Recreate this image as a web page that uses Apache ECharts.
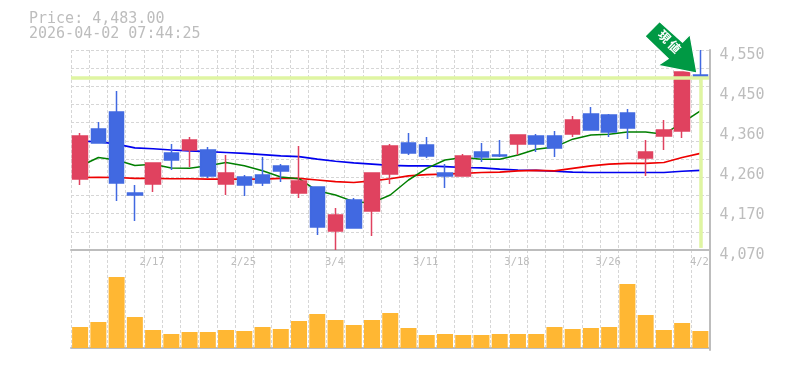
<!DOCTYPE html>
<html><head><meta charset="utf-8">
<script src="https://cdn.jsdelivr.net/npm/echarts@6/dist/echarts.min.js"></script>
<style>html,body{margin:0;padding:0;background:#fff}#c{width:785px;height:370px}</style>
</head><body><div id="c"></div>
<script>
const titleLines = ["Price: 4,483.00", "2026-04-02 07:44:25"];
const dates = ["2/10","2/12","2/13","2/16","2/17","2/18","2/19","2/20","2/24","2/25","2/26","2/27","3/2","3/3","3/4","3/5","3/6","3/9","3/10","3/11","3/12","3/13","3/16","3/17","3/18","3/19","3/23","3/24","3/25","3/26","3/27","3/30","3/31","4/1","4/2"];
const shownDates = ["2/17","2/25","3/4","3/11","3/18","3/26","4/2"];
const priceTicks = [4070,4166,4262,4358,4454,4550];
const priceTickLabels = ["4,070","4,170","4,260","4,360","4,450","4,550"];
// open, close, low, high
const ohlc = [
[4240.4,4343.6,4226,4350.8],[4360.4,4326.8,4326.8,4377.2],[4401.2,4230.8,4187.6,4451.6],[4206.8,4202,4139.6,4226],
[4228.4,4278.8,4209.2,4278.8],[4302.8,4286,4262,4324.4],[4310,4334,4269.2,4341.2],[4310,4247.6,4242.8,4317.2],
[4228.4,4254.8,4202,4298],[4245.2,4226,4199.6,4250],[4250,4230.8,4223.6,4293.2],[4271.6,4259.6,4233.2,4276.4],
[4206.8,4235.6,4194.8,4319.6],[4221.2,4125.2,4106,4221.2],[4115.6,4154,4070,4170.8],[4190,4122.8,4122.8,4194.8],
[4163.6,4254.8,4103.6,4254.8],[4252.4,4319.6,4228.4,4324.4],[4326.8,4302.8,4298,4350.8],[4322,4295.6,4290.8,4341.2],
[4254.8,4247.6,4218.8,4276.4],[4247.6,4295.6,4247.6,4300.4],[4305.2,4293.2,4281.2,4326.8],[4298,4295.6,4293.2,4334],
[4324.4,4346,4298,4346],[4343.6,4324.4,4305.2,4348.4],[4343.6,4314.8,4293.2,4355.6],[4348.4,4382,4341.2,4391.6],
[4396.4,4358,4358,4413.2],[4394,4353.2,4341.2,4396.4],[4398.8,4362.8,4336.4,4408.4],[4290.8,4305.2,4247.6,4334],
[4343.6,4358,4310,4382],[4355.6,4497.2,4338.8,4497.2],[4490,4483,4470.8,4550]];
const maGreen = [4271,4292,4286,4273,4276,4267,4266,4272,4280,4272,4260,4245,4241,4212,4202,4186,4183,4202,4238,4266,4286,4292,4288,4288,4298,4312,4317,4336,4346,4348,4353,4353,4348,4375,4404];
const maRed = [4244,4244.5,4244,4242,4242,4241,4241,4240,4240,4240,4240,4242,4242,4238,4234,4232,4236,4241,4248,4251,4252,4254,4256,4257,4260,4261,4260,4266,4272,4276,4278,4278,4280,4292,4302];
const maBlue = [4331,4330,4324,4315,4313,4310,4308,4306,4304,4302,4299,4296,4294,4288,4283,4279,4276,4273,4272,4272,4270,4268,4267,4264,4262,4261,4259,4257,4256,4256,4256,4256,4256,4259,4261];
const volume = [21,26,71,31,18,14,16,16,18,17,21,19,27,34,28,23,28,35,20,13,14,13,13,14,14,14,21,19,20,21,64,33,18,25,17];
const lastPrice = 4483;
const arrowLabel = "現\u2009値";

const GREY = '#bdbdbd', GRIDC = '#d6d6d6', LIME = '#dff5a2';
const FONT = '"DejaVu Sans Mono", monospace';
const dash = {color: GRIDC, width: 1, type: [3, 2]};
const ARROW = 'path://M14.3 0 L36.7 20 L44 12.7 L50.7 50 L12.7 42.7 L22.7 36 L0 14.4 Z';

const chart = echarts.init(document.getElementById('c'), null, {renderer: 'canvas'});
chart.setOption({
  animation: false,
  backgroundColor: '#fff',
  title: {text: titleLines.join('\n'), left: 24, top: 7,
    textStyle: {fontFamily: FONT, fontSize: 15, fontWeight: 'normal', color: GREY, lineHeight: 15}},
  grid: [
    {left: 71, top: 50, width: 638.5, height: 200},
    {left: 71, top: 250, width: 638.5, height: 100}
  ],
  xAxis: [
    {type: 'category', gridIndex: 0, data: dates, boundaryGap: true,
     axisLine: {show: true, lineStyle: {color: GREY, width: 2}}, axisTick: {show: false},
     splitLine: {show: true, interval: 0, lineStyle: dash},
     axisLabel: {interval: (i, v) => shownDates.includes(v), fontFamily: FONT, fontSize: 10.5, color: GREY, margin: 7, padding: [0, 2, 0, 0], hideOverlap: false}},
    {type: 'category', gridIndex: 1, data: dates, boundaryGap: true,
     axisLine: {show: true, lineStyle: {color: GREY, width: 2}}, axisTick: {show: false}, axisLabel: {show: false},
     splitLine: {show: true, interval: 0, lineStyle: dash}}
  ],
  yAxis: [
    {type: 'value', gridIndex: 0, position: 'right', min: 4070, max: 4550,
     axisLine: {show: true, lineStyle: {color: GREY, width: 2}}, axisTick: {show: false}, splitLine: {show: false},
     axisLabel: {customValues: priceTicks, formatter: v => priceTickLabels[priceTicks.indexOf(v)],
       fontFamily: FONT, fontSize: 15, color: GREY, margin: 10, verticalAlign: 'top', lineHeight: 10}},
    {type: 'value', gridIndex: 0, position: 'left', min: 0, max: 11, interval: 1,
     axisLine: {show: false}, axisTick: {show: false}, axisLabel: {show: false},
     splitLine: {show: true, lineStyle: dash}},
    {type: 'value', gridIndex: 1, position: 'right', min: -2, max: 98,
     axisLine: {show: true, lineStyle: {color: GREY, width: 2}}, axisTick: {show: false},
     axisLabel: {show: false}, splitLine: {show: false}}
  ],
  series: [
    {type: 'line', name: 'now', xAxisIndex: 0, yAxisIndex: 0, data: [], z: 1, silent: true,
     markLine: {silent: true, symbol: 'none', animation: false, label: {show: false},
       lineStyle: {color: LIME, width: 3.5, type: 'solid', opacity: 1},
       data: [
         [{coord: [dates[0], lastPrice], x: 71}, {coord: [dates[34], lastPrice], x: 709}],
         [{coord: [dates[34], lastPrice]}, {coord: [dates[34], 4075]}]
       ]}},
    {type: 'line', xAxisIndex: 0, yAxisIndex: 0, data: maBlue, symbol: 'none', z: 2, lineStyle: {color: '#0000ee', width: 1.7}},
    {type: 'line', xAxisIndex: 0, yAxisIndex: 0, data: maRed, symbol: 'none', z: 2, lineStyle: {color: '#ee0000', width: 1.7}},
    {type: 'line', xAxisIndex: 0, yAxisIndex: 0, data: maGreen, symbol: 'none', z: 2, lineStyle: {color: '#007f00', width: 1.5}},
    {type: 'candlestick', xAxisIndex: 0, yAxisIndex: 0, data: ohlc, barWidth: 15, z: 3,
     itemStyle: {color: '#e0425f', color0: '#4169e1', borderColor: '#e0425f', borderColor0: '#4169e1', borderWidth: 1.5},
     markPoint: {silent: true, animation: false, symbol: ARROW, symbolSize: [52, 51.5], symbolOffset: [-29.5, -30.7], symbolKeepAspect: false,
       itemStyle: {color: '#009944', borderColor: '#fff', borderWidth: 1.2},
       label: {show: true, position: 'inside', formatter: arrowLabel, rotate: -45, offset: [-5, -3],
         color: '#fff', fontSize: 12, fontWeight: 'bold', fontFamily: '"Noto Sans CJK JP"'},
       data: [{coord: [dates[34], lastPrice]}]}},
    {type: 'bar', xAxisIndex: 1, yAxisIndex: 2, data: volume, barWidth: 16, itemStyle: {color: '#ffb733'}}
  ]
});
</script></body></html>
